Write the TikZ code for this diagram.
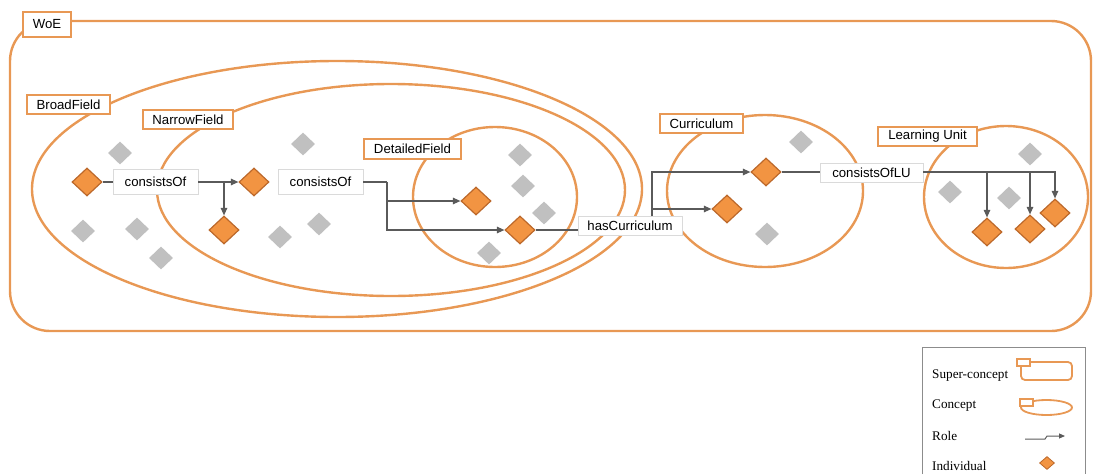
\documentclass[tikz,border=0pt]{standalone}
\usepackage{fontspec}
\setmainfont{Liberation Sans}
\newfontfamily\legendfont{Liberation Serif}
\usetikzlibrary{shapes.geometric,arrows.meta}

\definecolor{conceptline}{RGB}{232,152,84}
\definecolor{indfill}{RGB}{242,148,66}
\definecolor{inddraw}{RGB}{188,104,42}
\definecolor{otherind}{RGB}{192,192,192}
\definecolor{roleline}{RGB}{90,90,90}
\definecolor{roleframe}{RGB}{218,218,218}

\tikzset{
  concept/.style={draw=conceptline, line width=2.4pt},
  tag/.style={draw=conceptline, line width=2.2pt, fill=white, inner sep=0pt,
    font=\fontsize{13.2}{15}\selectfont},
  individual/.style={diamond, draw=inddraw, line width=1.2pt, fill=indfill,
    minimum width=30pt, minimum height=28pt, inner sep=0pt},
  other/.style={diamond, fill=otherind, minimum width=24pt, minimum height=23pt, inner sep=0pt},
  rolebox/.style={draw=roleframe, line width=0.8pt, fill=white, inner sep=0pt,
    font=\fontsize{13.2}{15}\selectfont},
  role/.style={draw=roleline, line width=1.2pt},
  rolearrow/.style={role, -{Triangle[length=7.5pt,width=6.5pt]}},
  legendtext/.style={anchor=west, font=\legendfont\fontsize{13.2}{15}\selectfont, inner sep=0pt}
}

\begin{document}
\begin{tikzpicture}[x=1pt, y=-1pt]
\useasboundingbox (0,0) rectangle (1094,474);

% super-concept frame
\draw[concept, rounded corners=40pt] (10,21) rectangle (1091,331);

% concept ellipses
\draw[concept] (337,189) ellipse [x radius=305, y radius=128];
\draw[concept] (391,190) ellipse [x radius=234, y radius=106];
\draw[concept] (495,197) ellipse [x radius=82, y radius=70];
\draw[concept] (765,191) ellipse [x radius=98, y radius=76];
\draw[concept] (1006,197) ellipse [x radius=82, y radius=71];

% concept tags
\node[tag, minimum width=48pt, minimum height=25pt] (woe) at (47,24.5) {WoE};
\node[tag, minimum width=83pt, minimum height=19pt] (broad) at (68.5,104.5) {BroadField};
\node[tag, minimum width=90pt, minimum height=19pt] (narrow) at (188,119.5) {NarrowField};
\node[tag, minimum width=97pt, minimum height=20pt] (detailed) at (412.5,149) {DetailedField};
\node[tag, minimum width=83pt, minimum height=19pt] (curr) at (701.5,123.5) {Curriculum};
\node[tag, minimum width=99pt, minimum height=19pt] (lu) at (927.5,136.5) {Learning Unit};

% other individuals
\foreach \p in {(120,153),(83,231),(137,229),(161,258),(303,144),(280,237),(319,224),
                (520,155),(523,186),(544,213),(489,253),
                (801,142),(767,234),
                (1030,154),(950,192),(1009,198)}
  \node[other] at \p {};

% individuals on roles
\node[individual] (d1) at (87,182) {};
\node[individual] (d2) at (254,182) {};
\node[individual] (d3) at (224,230) {};
\node[individual] (d4) at (476,201) {};
\node[individual] (d5) at (520,230) {};
\node[individual] (d6) at (766,172) {};
\node[individual] (d7) at (727,209) {};
\node[individual] (d8) at (987,232) {};
\node[individual] (d9) at (1030,229) {};
\node[individual] (d10) at (1055,213) {};

% role labels
\node[rolebox, minimum width=85pt, minimum height=25pt] (cf1) at (155.5,182) {consistsOf};
\node[rolebox, minimum width=85pt, minimum height=25pt] (cf2) at (320.5,182) {consistsOf};
\node[rolebox, minimum width=104pt, minimum height=19pt] (hc) at (630,226) {hasCurriculum};
\node[rolebox, minimum width=103pt, minimum height=19pt] (cflu) at (871.5,172.5) {consistsOfLU};

% role connectors
\draw[role] (d1.east) -- (cf1.west);
\draw[rolearrow] (cf1.east) -- (d2.west);
\draw[rolearrow] (cf1.east -| d3.north) -- (d3.north);

\coordinate (j2) at (387,182);
\draw[role] (cf2.east) -- (j2);
\draw[rolearrow] (j2) |- (d4.west);
\draw[rolearrow] (j2) |- (d5.west);

\draw[role] (d5.east) -- (d5.east -| hc.west);
\coordinate (j3) at ([xshift=22pt]hc.north);
\draw[rolearrow] (j3) |- (d6.west);
\draw[rolearrow] (j3) |- (d7.west);

\draw[role] (d6.east) -- (d6.east -| cflu.west);
\coordinate (j4) at (cflu.east |- d6.east);
\draw[rolearrow] (j4) -| (d10.north);
\draw[rolearrow] (j4 -| d8.north) -- (d8.north);
\draw[rolearrow] (j4 -| d9.north) -- (d9.north);

% legend
\draw[draw=black!45, line width=0.6pt] (922,474) -- (922,347) -- (1085,347) -- (1085,474);
\node[legendtext] (lsup) at (932,376) {Super-concept};
\node[legendtext] (lcon) at (932,406) {Concept};
\node[legendtext] (lrole) at (932,436) {Role};
\node[legendtext] (lind) at (932,466) {Individual};

\draw[concept, line width=1.8pt, rounded corners=4pt] (1021,362) rectangle (1072,380);
\draw[concept, line width=1.6pt, fill=white] (1017,359) rectangle (1030,366);
\draw[concept, line width=1.8pt] (1046.5,407.5) ellipse [x radius=25.5, y radius=7.5];
\draw[concept, line width=1.6pt, fill=white] (1020,399) rectangle (1033,406);
\coordinate (r0) at (1025,439);
\coordinate (r1) at (1065,436);
\draw[role, line width=1pt, -{Triangle[length=6pt,width=5pt]}] (r0) -- (1045,439) -- (1047,436) -- (r1);
\node[individual, minimum width=15pt, minimum height=13pt, line width=0.8pt] (lindicon) at (1047,463) {};
\end{tikzpicture}
\end{document}
